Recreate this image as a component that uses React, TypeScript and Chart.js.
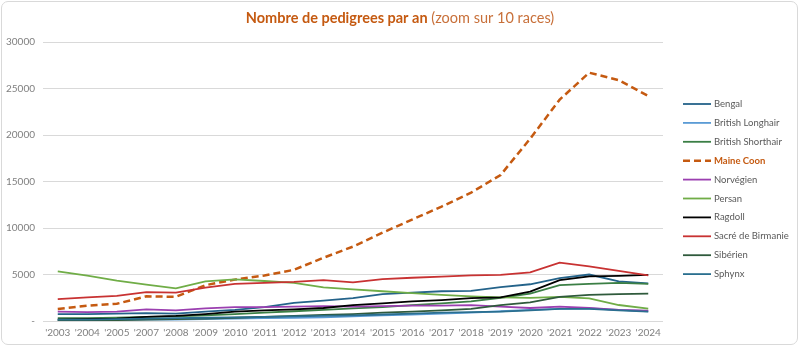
import React, { useEffect, useRef } from "react";
import { Chart, registerables } from "chart.js";

Chart.register(...registerables);

const years = ["'2003", "'2004", "'2005", "'2007", "'2008", "'2009", "'2010", "'2011", "'2012", "'2013", "'2014", "'2015", "'2016", "'2017", "'2018", "'2019", "'2020", "'2021", "'2022", "'2023", "'2024"];

const bengal = [750, 750, 800, 850, 800, 1000, 1200, 1500, 1950, 2200, 2450, 2900, 3050, 3200, 3250, 3650, 3950, 4600, 5000, 4250, 4050];
const britishLonghair = [100, 100, 100, 150, 150, 200, 250, 300, 350, 400, 500, 600, 700, 800, 900, 1050, 1200, 1300, 1350, 1200, 1050];
const britishShorthair = [300, 300, 350, 450, 500, 600, 750, 900, 1050, 1200, 1350, 1500, 1700, 1900, 2100, 2500, 2950, 3850, 4000, 4100, 4000];
const maineCoon = [1300, 1650, 1850, 2650, 2600, 3850, 4450, 4900, 5500, 6800, 8000, 9500, 10900, 12300, 13800, 15700, 19600, 23800, 26700, 25900, 24200];
const norvegien = [1000, 950, 1000, 1250, 1150, 1350, 1500, 1500, 1550, 1600, 1550, 1600, 1650, 1650, 1700, 1550, 1400, 1550, 1400, 1200, 1100];
const persan = [5330, 4870, 4340, 3900, 3500, 4260, 4470, 4300, 4100, 3620, 3400, 3200, 3000, 2800, 2650, 2550, 2480, 2590, 2430, 1720, 1330];
const ragdoll = [150, 200, 250, 450, 550, 750, 1000, 1150, 1250, 1400, 1700, 1900, 2100, 2250, 2450, 2550, 3150, 4400, 4800, 4850, 4950];
const sacreDeBirmanie = [2350, 2550, 2700, 3100, 3050, 3600, 4000, 4100, 4200, 4400, 4150, 4500, 4650, 4780, 4900, 4950, 5230, 6280, 5880, 5400, 4900];
const siberien = [50, 50, 100, 150, 200, 250, 350, 450, 550, 650, 750, 900, 1000, 1150, 1300, 1700, 2000, 2600, 2800, 2900, 2950];
const sphynx = [150, 150, 200, 250, 300, 350, 400, 450, 500, 550, 600, 700, 800, 900, 950, 1000, 1150, 1300, 1300, 1150, 1000];

const seriesNames = ["Bengal", "British Longhair", "British Shorthair", "Maine Coon", "Norvégien", "Persan", "Ragdoll", "Sacré de Birmanie", "Sibérien", "Sphynx"];
const seriesValues = [bengal, britishLonghair, britishShorthair, maineCoon, norvegien, persan, ragdoll, sacreDeBirmanie, siberien, sphynx];
const seriesColors = ["#24638a", "#5b9bd5", "#3b7f45", "#c55a11", "#9b3fb0", "#70ad47", "#000000", "#c83232", "#2f5a3c", "#2a6f8f"];

const yTicks = [0, 5000, 10000, 15000, 20000, 25000, 30000];

const FONT = "Lato, 'Open Sans', sans-serif";

const titlePlugin = {
  id: "mixedTitle",
  afterDraw(chart: any) {
    const ctx = chart.ctx;
    ctx.save();
    const p1 = "Nombre de pedigrees par an";
    const p2 = " (zoom sur 10 races)";
    ctx.font = `bold 14.5px ${FONT}`;
    const w1 = ctx.measureText(p1).width;
    ctx.font = `14.5px ${FONT}`;
    const w2 = ctx.measureText(p2).width;
    const x0 = 400 - (w1 + w2) / 2;
    ctx.textBaseline = "middle";
    ctx.textAlign = "left";
    ctx.fillStyle = "#c55a11";
    ctx.font = `bold 14.5px ${FONT}`;
    ctx.fillText(p1, x0, 18);
    ctx.fillStyle = "#c8703a";
    ctx.font = `14.5px ${FONT}`;
    ctx.fillText(p2, x0 + w1, 18);
    ctx.restore();
  },
};

const legendPlugin = {
  id: "sideLegend",
  afterDraw(chart: any) {
    const ctx = chart.ctx;
    ctx.save();
    chart.data.datasets.forEach((ds: any, i: number) => {
      const y = 104 + i * 18.9;
      ctx.beginPath();
      ctx.strokeStyle = ds.borderColor;
      ctx.lineWidth = ds.borderWidth;
      ctx.setLineDash(ds.borderDash || []);
      ctx.moveTo(683, y);
      ctx.lineTo(711, y);
      ctx.stroke();
      ctx.setLineDash([]);
      const isMC = ds.label === "Maine Coon";
      ctx.font = `${isMC ? "bold " : ""}9.5px ${FONT}`;
      ctx.fillStyle = isMC ? "#c55a11" : "#595959";
      ctx.textBaseline = "middle";
      ctx.textAlign = "left";
      ctx.fillText(ds.label, 714, y);
    });
    ctx.restore();
  },
};

export default function App() {
  const ref = useRef<HTMLCanvasElement>(null);
  useEffect(() => {
    if (!ref.current) return;
    const chart = new Chart(ref.current, {
      type: "line",
      data: {
        labels: years,
        datasets: seriesNames.map((name, i) => ({
          label: name,
          data: seriesValues[i],
          borderColor: seriesColors[i],
          backgroundColor: seriesColors[i],
          borderWidth: name === "Maine Coon" ? 2.5 : 1.8,
          borderDash: name === "Maine Coon" ? [7, 4] : [],
          pointRadius: 0,
          tension: 0,
          fill: false,
          order: seriesNames.length - i,
        })),
      },
      options: {
        animation: false,
        responsive: false,
        devicePixelRatio: 1,
        layout: { padding: { left: 0, top: 42, right: 137, bottom: 0 } },
        plugins: { legend: { display: false }, title: { display: false }, tooltip: { enabled: false } },
        scales: {
          x: {
            offset: true,
            grid: { display: false, drawTicks: false },
            border: { display: false },
            ticks: { color: "#7f7f7f", font: { family: FONT, size: 10 }, maxRotation: 0, autoSkip: false, padding: 6 },
            afterFit: (s: any) => { s.height = 27; },
          },
          y: {
            min: 0,
            max: 30000,
            afterBuildTicks: (s: any) => { s.ticks = yTicks.map((v) => ({ value: v })); },
            grid: { color: "#d9d9d9", lineWidth: 1, drawTicks: false },
            border: { display: false },
            ticks: {
              color: "#7f7f7f",
              font: { family: FONT, size: 10 },
              padding: 8,
              callback: (v: any) => (v === 0 ? "-" : String(v)),
            },
            afterFit: (s: any) => { s.width = 43; },
          },
        },
      },
      plugins: [titlePlugin, legendPlugin],
    });
    return () => chart.destroy();
  }, []);
  return (
    <div style={{ position: "absolute", left: 0, top: 0, width: 800, height: 348, background: "#fff" }}>
      <canvas ref={ref} width={800} height={348} style={{ display: "block" }} />
      <div style={{ position: "absolute", left: 1, top: 1, width: 797, height: 344, boxSizing: "border-box", border: "1px solid #d9d9d9", borderRadius: 7, pointerEvents: "none" }} />
    </div>
  );
}
